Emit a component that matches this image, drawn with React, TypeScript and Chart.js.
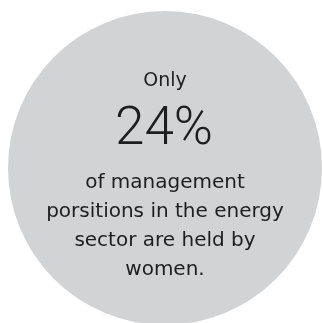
import React, { useEffect, useRef } from "react";
import { Chart, registerables } from "chart.js";

Chart.register(...registerables);

const categories = ["Circle"];
const values = [100];
const colors = ["#d1d3d4"];
const headLine = "Only";
const bigValue = "24%";
const bodyLines = [
  "of management",
  "porsitions in the energy",
  "sector are held by",
  "women.",
];

const FONT = "'DejaVu Sans', sans-serif";

const textPlugin = {
  id: "centerText",
  afterDatasetsDraw(chart: any) {
    const { ctx } = chart;
    const meta = chart.getDatasetMeta(0);
    const arc = meta.data[0];
    const cx = arc.x;
    const cy = arc.y;
    ctx.save();
    ctx.fillStyle = "#1e1e1e";
    ctx.textAlign = "center";
    ctx.textBaseline = "alphabetic";
    ctx.font = `19px ${FONT}`;
    ctx.fillText(headLine, cx, cy - 82);
    ctx.font = `300 53px Roboto, ${FONT}`;
    ctx.fillText(bigValue, cx - 1, cy - 24);
    ctx.font = `20px ${FONT}`;
    bodyLines.forEach((line, i) => {
      ctx.fillText(line, cx, cy + 20 + i * 29);
    });
    ctx.restore();
  },
};

export default function App() {
  const ref = useRef<HTMLCanvasElement | null>(null);
  useEffect(() => {
    document.body.style.overflow = "hidden";
    const chart = new Chart(ref.current as HTMLCanvasElement, {
      type: "pie",
      data: {
        labels: categories,
        datasets: [
          {
            data: values,
            backgroundColor: colors,
            borderWidth: 0,
          },
        ],
      },
      options: {
        animation: false,
        responsive: false,
        layout: { padding: { left: 8, top: 11, right: 8, bottom: 5 } },
        plugins: {
          legend: { display: false },
          tooltip: { enabled: false },
        },
      },
      plugins: [textPlugin],
    });
    return () => chart.destroy();
  }, []);
  return (
    <div style={{ position: "fixed", left: 0, top: 0, width: 330, height: 330 }}>
      <canvas ref={ref} width={330} height={330} style={{ width: 330, height: 330 }} />
    </div>
  );
}
